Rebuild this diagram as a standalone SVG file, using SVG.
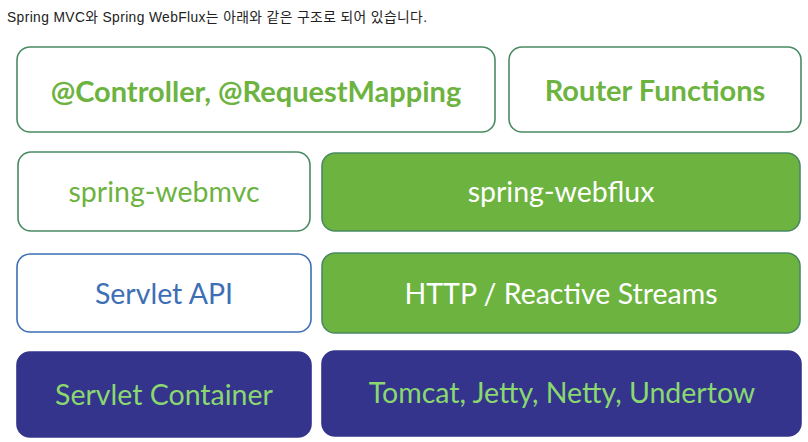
<svg xmlns="http://www.w3.org/2000/svg" width="808" height="442" viewBox="0 0 808 442">
<style>
.bw{fill:#ffffff;stroke:#4a8a62;stroke-width:1.6}
.bb{fill:#ffffff;stroke:#3d6fb5;stroke-width:1.6}
.bg{fill:#6db33f;stroke:#4a8a62;stroke-width:1.6}
.bn{fill:#34348c;stroke:#34348c;stroke-width:1.6}
text{font-family:Lato,"Open Sans","Liberation Sans",sans-serif;text-anchor:middle}
.t1{font-size:29px;font-weight:bold;fill:#6db33f}
.t2{font-size:28.5px;fill:#6db33f}
.tw{font-size:28.5px;fill:#ffffff}
.tb{font-size:28.5px;fill:#3d6fb5}
.tn{font-size:28.5px;fill:#8ad86f}
.h{font-family:"Liberation Sans","Noto Sans CJK KR",sans-serif;font-size:13.8px;fill:#222;text-anchor:start}
</style>
<text class="h" x="7" y="22" textLength="420" lengthAdjust="spacing">Spring MVC와 Spring WebFlux는 아래와 같은 구조로 되어 있습니다.</text>
<g id="controller"><rect class="bw" x="17" y="47" width="478" height="85" rx="13"/><text class="t1" x="256" y="102">@Controller, @RequestMapping</text></g>
<g id="router"><rect class="bw" x="509" y="47" width="292" height="85" rx="13"/><text class="t1" x="655" y="101">Router Functions</text></g>
<g id="webmvc"><rect class="bw" x="18" y="152" width="292" height="79" rx="13"/><text class="t2" x="164" y="202">spring-webmvc</text></g>
<g id="webflux"><rect class="bg" x="322" y="153" width="478" height="78" rx="13"/><text class="tw" x="561" y="202">spring-webflux</text></g>
<g id="servletapi"><rect class="bb" x="17" y="254" width="294" height="78" rx="13"/><text class="tb" x="164" y="304">Servlet API</text></g>
<g id="http"><rect class="bg" x="322" y="253" width="478" height="80" rx="13"/><text class="tw" x="561" y="304">HTTP / Reactive Streams</text></g>
<g id="container"><rect class="bn" x="17" y="352" width="294" height="85" rx="13"/><text class="tn" x="164" y="405">Servlet Container</text></g>
<g id="servers"><rect class="bn" x="322" y="351" width="479" height="85" rx="13"/><text class="tn" x="562" y="403">Tomcat, Jetty, Netty, Undertow</text></g>
<g id="connectors"></g>
</svg>
